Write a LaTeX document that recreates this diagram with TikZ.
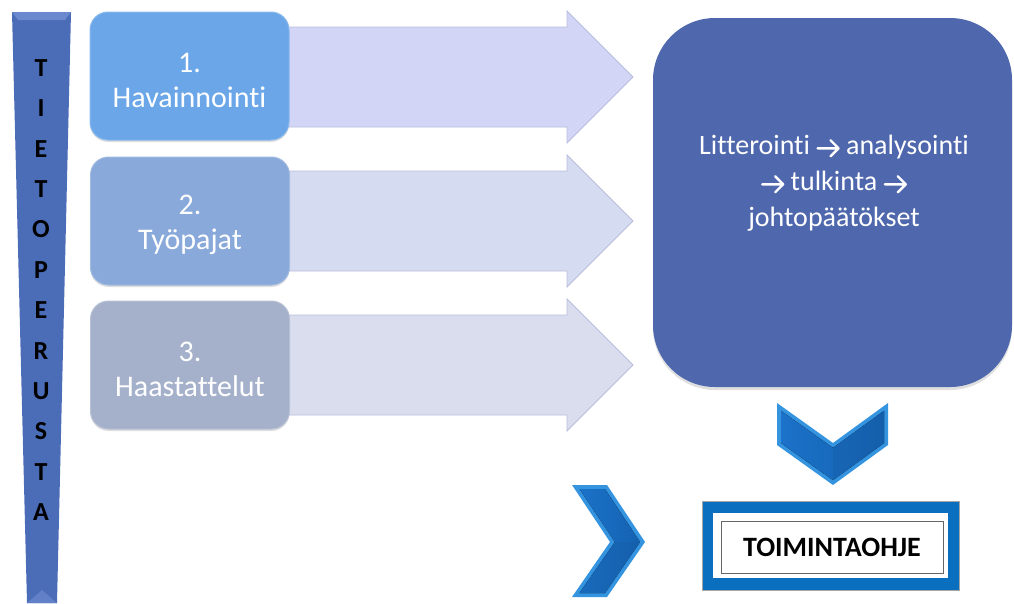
\documentclass[tikz,border=0pt]{standalone}
\usepackage{fontspec}
\setmainfont{Carlito}[Ligatures={NoCommon}]
\usetikzlibrary{shadows,arrows.meta}

\definecolor{barblue}{HTML}{4B6CB7}
\definecolor{barlight}{HTML}{6A89CF}
\definecolor{boxA}{HTML}{6AA6E8}
\definecolor{boxB}{HTML}{88A9D9}
\definecolor{boxC}{HTML}{A5B1CB}
\definecolor{arrA}{HTML}{D2D5F5}
\definecolor{arrB}{HTML}{D5DBF0}
\definecolor{arrC}{HTML}{DADDEE}
\definecolor{arrline}{HTML}{B9BEDC}
\definecolor{bigblue}{HTML}{4E67AD}
\definecolor{chevlight}{HTML}{3594E0}
\definecolor{chevmid}{HTML}{1B72C8}
\definecolor{chevdark}{HTML}{1462B2}
\definecolor{officeblue}{HTML}{0B6FC0}

% thin open-headed arrow used inside the running text
\newcommand\tarrow{\tikz[x=1pt,y=1pt,baseline=-7pt]{\draw[white, line width=2.4pt, line cap=round, line join=round]
  (0,-1) -- (21,-1) (13,7) -- (21,-1) -- (13,-9);}}

\tikzset{
  lbl/.style={font=\fontsize{30}{35}\selectfont, text=white, align=center},
  stepbox/.style={rounded corners=18pt, minimum width=199pt, minimum height=128pt,
    lbl, drop shadow={opacity=0.25, shadow xshift=0pt, shadow yshift=-2pt}},
  blockarrow/.style={draw=arrline, line width=0.8pt, line join=miter},
  chevouter/.style={fill=chevlight},
  chevinner/.style={left color=chevmid, right color=chevdark},
}

\begin{document}
\begin{tikzpicture}[x=1pt,y=-1pt]
\useasboundingbox (0,0) rectangle (1014,603);

% tapered side bar
\fill[barblue] (12,12) -- (71,12) -- (57,603) -- (27,603) -- cycle;
\fill[barlight] (12,12) -- (71,12) -- (65,20) -- (18,20) -- cycle;
\fill[barlight!70!barblue] (27,603) -- (42,590) -- (57,603) -- cycle;
\node[font=\fontsize{26}{40.4}\selectfont\bfseries, align=center, inner sep=0pt]
  (tieto) at (41,290) {T\\I\\E\\T\\O\\P\\E\\R\\U\\S\\T\\A};

% block arrows towards the analysis box
\fill[arrA] (280,27) -- (567,27) -- (567,11) -- (633,77) -- (567,143) -- (567,127) -- (280,127) -- cycle;
\draw[blockarrow] (280,27) -- (567,27) -- (567,11) -- (633,77) -- (567,143) -- (567,127) -- (280,127);
\fill[arrB] (280,171) -- (567,171) -- (567,155) -- (633,221) -- (567,287) -- (567,271) -- (280,271) -- cycle;
\draw[blockarrow] (280,171) -- (567,171) -- (567,155) -- (633,221) -- (567,287) -- (567,271) -- (280,271);
\fill[arrC] (280,315) -- (567,315) -- (567,299) -- (633,365) -- (567,431) -- (567,415) -- (280,415) -- cycle;
\draw[blockarrow] (280,315) -- (567,315) -- (567,299) -- (633,365) -- (567,431) -- (567,415) -- (280,415);

% data collection steps
\node[stepbox, fill=boxA, draw=boxA!80!white, line width=1pt] (s1) at (189.5,76) {};
\node[stepbox, fill=boxB, draw=boxB!80!white, line width=1pt] (s2) at (190,221) {};
\node[stepbox, fill=boxC, draw=boxC!80!white, line width=1pt] (s3) at (190,365) {};
\node[lbl] (t1) at (189.5,80) {1.\\Havainnointi};
\node[lbl] (t2) at (190,225) {2.\\Työpajat};
\node[lbl] (t3) at (190,369) {3.\\Haastattelut};

% analysis box
\node[rounded corners=62pt, minimum width=359pt, minimum height=369pt, fill=bigblue,
  drop shadow={opacity=0.25, shadow xshift=0pt, shadow yshift=-3pt}] (ana) at (832.5,202.5) {};
\node[lbl, font=\fontsize{28}{36}\selectfont] (anatxt) at (834,183)
  {Litterointi \tarrow{} analysointi\\\tarrow{} tulkinta \tarrow{}\\johtopäätökset};

% down chevron
\fill[chevouter] (777,403) -- (833,443) -- (888,403) -- (888,445) -- (833,485) -- (777,445) -- cycle;
\fill[chevinner] (781,410.8) -- (833,447.9) -- (884,410.8) -- (884,443) -- (833,480.1) -- (781,443) -- cycle;
\fill[chevmid!80!black, opacity=0.3] (833,447.9) -- (884,410.8) -- (884,443) -- (833,480.1) -- cycle;

% right chevron
\fill[chevouter] (572,485) -- (607,485) -- (645,542) -- (607,597) -- (572,597) -- (610,542) -- cycle;
\fill[chevinner] (579.5,489) -- (605,489) -- (640,542) -- (605,593) -- (579.5,593) -- (615,542) -- cycle;
\fill[chevmid!80!black, opacity=0.3] (615,542) -- (640,542) -- (605,593) -- (579.5,593) -- cycle;

% final result
\node[fill=officeblue, draw=gray!70, line width=0.5pt, minimum width=257pt, minimum height=89pt] (fin) at (830.5,545.5) {};
\node[fill=white, minimum width=235pt, minimum height=65pt] (finin) at (fin.center) {};
\node[draw=gray!80!black, line width=0.8pt, minimum width=222pt, minimum height=52pt,
  font=\fontsize{28}{34}\selectfont\bfseries] (fintxt) at (832,547) {TOIMINTAOHJE};
\end{tikzpicture}
\end{document}
